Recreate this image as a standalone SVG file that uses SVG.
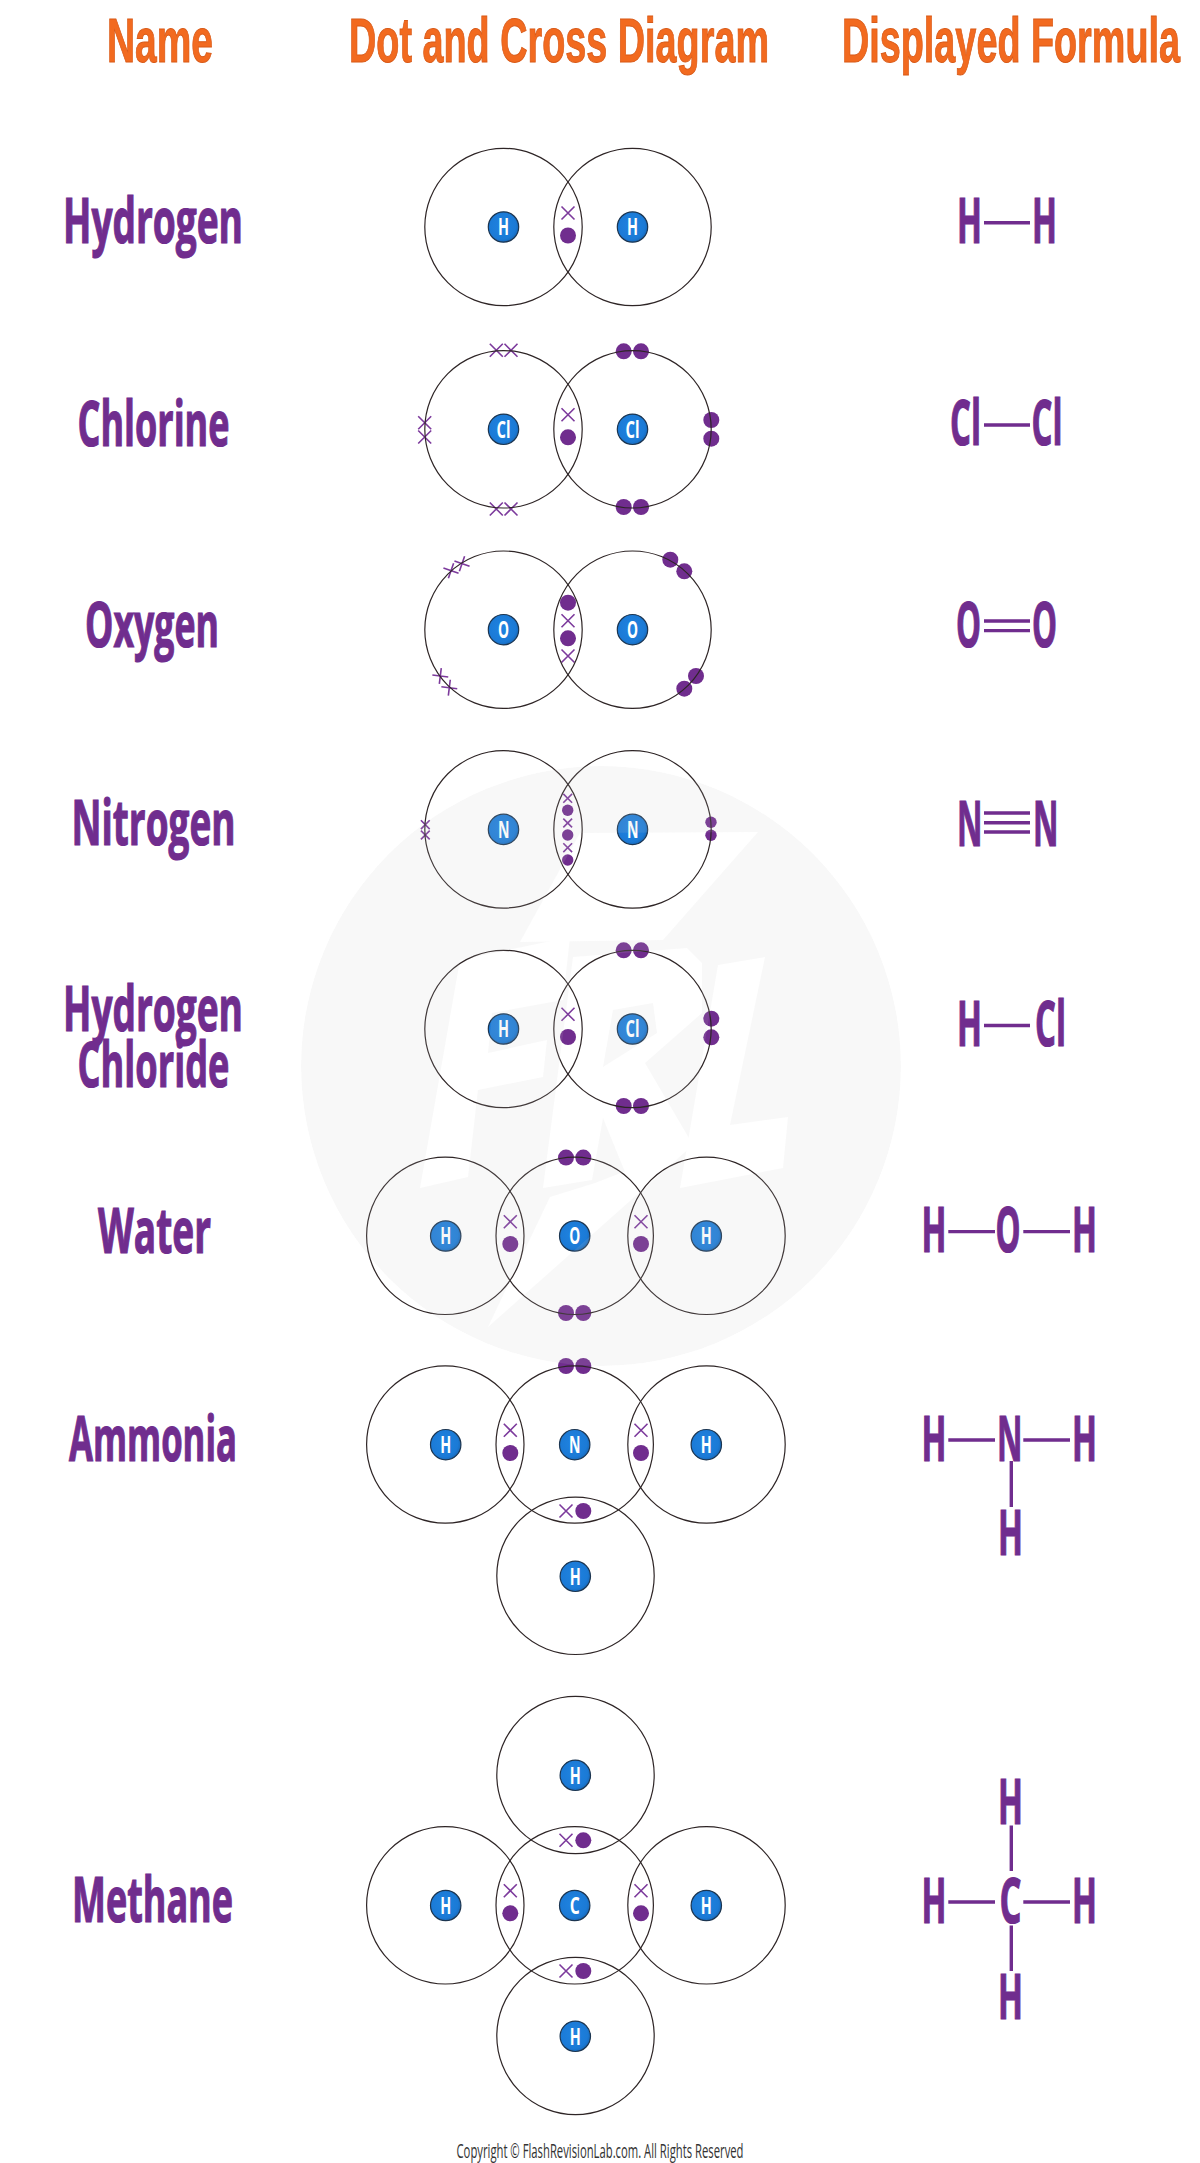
<svg xmlns="http://www.w3.org/2000/svg" xmlns:xlink="http://www.w3.org/1999/xlink" width="1200" height="2163" viewBox="0 0 1200 2163">
<style>
text{font-family:"Open Sans","Liberation Sans",sans-serif;text-anchor:start}
.hd{font-family:"Liberation Sans","Open Sans",sans-serif;font-size:63px;font-weight:700;fill:#f26a1f;stroke:#d85a18;stroke-width:1}
.nm{font-size:62px;font-weight:700;fill:#702d8e;stroke:#702d8e;stroke-width:1.2}
.fm{font-size:62px;font-weight:700;fill:#702d8e;stroke:#702d8e;stroke-width:1.2}
.nu{font-size:23px;font-weight:700;fill:#fff}
.cr{font-size:20px;fill:#333}
.sh{fill:none;stroke:#2e2526;stroke-width:1.2}
.e{fill:#702d8e}
.x{fill:none;stroke:#7c3a9c;stroke-width:1.6}
.n{fill:url(#blue);stroke:#1c3550;stroke-width:1.2}
.b{stroke:#702d8e;stroke-width:3.4;fill:none}
</style>
<defs>
<radialGradient id="blue" cx=".45" cy=".45" r=".6"><stop offset="0" stop-color="#1f83e0"/><stop offset=".75" stop-color="#1b7ad6"/><stop offset="1" stop-color="#1864b0"/></radialGradient>
<path id="xl" class="x" d="M-6.5-6.5L6.5 6.5M6.5-6.5L-6.5 6.5"/>
<path id="xs" class="x" d="M-4.4-4.4L4.4 4.4M4.4-4.4L-4.4 4.4"/>
<path id="xp" class="x" d="M-8 0L8 0M0-8L0 8"/>
<mask id="wm" maskUnits="userSpaceOnUse" x="290" y="750" width="620" height="630">
<circle cx="601" cy="1066" r="300" fill="#fff"/>
<g fill="#000">
<polygon points="580,833 758,832 663,940 520,942"/>
<polygon points="460,960 570,937 563,1000 492,1013 488,1053 547,1040 543,1077 478,1090 468,1177 420,1188"/>
<polygon points="573,957 687,948 702,963 702,1013 645,1063 693,1145 627,1177 603,1118 592,1180 543,1188"/>
<polygon points="718,965 765,957 730,1125 788,1117 783,1168 680,1188"/>
<polygon points="550,1197 595,1183 693,1145 488,1327"/>
</g>
<polygon points="613,1010 653,1003 657,1033 603,1067" fill="#fff"/>
</mask>
</defs>
<rect width="1200" height="2163" fill="#fff"/>

<g id="headers">
<text class="hd" x="107" y="62" textLength="106" lengthAdjust="spacingAndGlyphs">Name</text>
<text class="hd" x="349" y="62" textLength="420" lengthAdjust="spacingAndGlyphs">Dot and Cross Diagram</text>
<text class="hd" x="842" y="62" textLength="338" lengthAdjust="spacingAndGlyphs">Displayed Formula</text>
</g>

<g id="names">
<text class="nm" x="63" y="243" textLength="180" lengthAdjust="spacingAndGlyphs">Hydrogen</text>
<text class="nm" x="77.5" y="446" textLength="152" lengthAdjust="spacingAndGlyphs">Chlorine</text>
<text class="nm" x="85" y="647" textLength="134" lengthAdjust="spacingAndGlyphs">Oxygen</text>
<text class="nm" x="71.5" y="845" textLength="164" lengthAdjust="spacingAndGlyphs">Nitrogen</text>
<text class="nm" x="63" y="1031" textLength="180" lengthAdjust="spacingAndGlyphs">Hydrogen</text>
<text class="nm" x="77.5" y="1087" textLength="152" lengthAdjust="spacingAndGlyphs">Chloride</text>
<text class="nm" x="98" y="1253" textLength="113" lengthAdjust="spacingAndGlyphs">Water</text>
<text class="nm" x="69" y="1461" textLength="168" lengthAdjust="spacingAndGlyphs">Ammonia</text>
<text class="nm" x="72" y="1922" textLength="161" lengthAdjust="spacingAndGlyphs">Methane</text>
</g>

<g id="hydrogen">
<use href="#xl" x="568" y="213"/><circle class="e" cx="568" cy="235.5" r="8"/>
<circle class="sh" cx="503.5" cy="227" r="78.7"/><circle class="sh" cx="632.5" cy="227" r="78.7"/>
<circle class="n" cx="503.5" cy="227" r="15.2"/><circle class="n" cx="632.5" cy="227" r="15.2"/>
<text class="nu" x="498" y="235.3" textLength="11" lengthAdjust="spacingAndGlyphs">H</text><text class="nu" x="627" y="235.3" textLength="11" lengthAdjust="spacingAndGlyphs">H</text>
</g>

<g id="chlorine">
<use href="#xl" x="496.3" y="350.3"/><use href="#xl" x="511" y="350.3"/><use href="#xl" x="496.3" y="509"/><use href="#xl" x="511" y="509"/><use href="#xl" x="424.7" y="422.7"/><use href="#xl" x="424.7" y="437"/>
<use href="#xl" x="568" y="414.7"/><circle class="e" cx="568" cy="437.3" r="8"/>
<circle class="e" cx="623.7" cy="351.3" r="8"/><circle class="e" cx="641" cy="351.3" r="8"/><circle class="e" cx="623.7" cy="507" r="8"/><circle class="e" cx="641" cy="507" r="8"/><circle class="e" cx="711.3" cy="420" r="8"/><circle class="e" cx="711.3" cy="438.7" r="8"/>
<circle class="sh" cx="503.5" cy="429.3" r="78.7"/><circle class="sh" cx="632.5" cy="429.3" r="78.7"/>
<circle class="n" cx="503.5" cy="429.3" r="15.2"/><circle class="n" cx="632.5" cy="429.3" r="15.2"/>
<text class="nu" x="496.5" y="437.6" textLength="14" lengthAdjust="spacingAndGlyphs">Cl</text><text class="nu" x="625.5" y="437.6" textLength="14" lengthAdjust="spacingAndGlyphs">Cl</text>
</g>

<g id="oxygen">
<use href="#xp" transform="translate(451 570.7) rotate(19)"/><use href="#xp" transform="translate(462 563.7) rotate(19)"/><use href="#xp" transform="translate(440.3 676) rotate(7)"/><use href="#xp" transform="translate(449.3 687.7) rotate(7)"/>
<circle class="e" cx="568" cy="602.7" r="8"/><use href="#xl" x="568" y="620.7"/><circle class="e" cx="568" cy="638.3" r="8"/><use href="#xl" x="568" y="656"/>
<circle class="e" cx="670.3" cy="559.7" r="8"/><circle class="e" cx="684.3" cy="571.3" r="8"/><circle class="e" cx="696" cy="676" r="8"/><circle class="e" cx="684.3" cy="688.7" r="8"/>
<circle class="sh" cx="503.5" cy="629.7" r="78.7"/><circle class="sh" cx="632.5" cy="629.7" r="78.7"/>
<circle class="n" cx="503.5" cy="629.7" r="15.2"/><circle class="n" cx="632.5" cy="629.7" r="15.2"/>
<text class="nu" x="498" y="638" textLength="11" lengthAdjust="spacingAndGlyphs">O</text><text class="nu" x="627" y="638" textLength="11" lengthAdjust="spacingAndGlyphs">O</text>
</g>

<g id="nitrogen">
<use href="#xs" x="425.3" y="824.7"/><use href="#xs" x="425.3" y="835"/>
<use href="#xs" x="567.7" y="798.3"/><use href="#xs" x="567.7" y="823"/><use href="#xs" x="567.7" y="847.7"/>
<circle class="e" cx="567.7" cy="810.3" r="5.7"/><circle class="e" cx="567.7" cy="835" r="5.7"/><circle class="e" cx="567.7" cy="860" r="5.7"/>
<circle class="e" cx="711" cy="822.3" r="5.7"/><circle class="e" cx="711" cy="835.3" r="5.7"/>
<circle class="sh" cx="503.5" cy="829.4" r="78.7"/><circle class="sh" cx="632.5" cy="829.4" r="78.7"/>
<circle class="n" cx="503.5" cy="829.4" r="15.2"/><circle class="n" cx="632.5" cy="829.4" r="15.2"/>
<text class="nu" x="498" y="837.7" textLength="11.5" lengthAdjust="spacingAndGlyphs">N</text><text class="nu" x="627" y="837.7" textLength="11.5" lengthAdjust="spacingAndGlyphs">N</text>
</g>

<g id="hydrogen-chloride">
<use href="#xl" x="568" y="1014.3"/><circle class="e" cx="568" cy="1037" r="8"/>
<circle class="e" cx="623.7" cy="950.3" r="8"/><circle class="e" cx="641" cy="950.3" r="8"/><circle class="e" cx="623.7" cy="1106" r="8"/><circle class="e" cx="641" cy="1106" r="8"/><circle class="e" cx="711.3" cy="1018.7" r="8"/><circle class="e" cx="711.3" cy="1037.3" r="8"/>
<circle class="sh" cx="503.5" cy="1029" r="78.7"/><circle class="sh" cx="632.5" cy="1029" r="78.7"/>
<circle class="n" cx="503.5" cy="1029" r="15.2"/><circle class="n" cx="632.5" cy="1029" r="15.2"/>
<text class="nu" x="498" y="1037.3" textLength="11" lengthAdjust="spacingAndGlyphs">H</text><text class="nu" x="625.5" y="1037.3" textLength="14" lengthAdjust="spacingAndGlyphs">Cl</text>
</g>

<g id="water">
<use href="#xl" x="510.3" y="1221.7"/><circle class="e" cx="510.3" cy="1244" r="8"/><use href="#xl" x="641" y="1221.7"/><circle class="e" cx="641" cy="1244" r="8"/>
<circle class="e" cx="566" cy="1157.6" r="8"/><circle class="e" cx="583.3" cy="1157.6" r="8"/><circle class="e" cx="566" cy="1313" r="8"/><circle class="e" cx="583.3" cy="1313" r="8"/>
<circle class="sh" cx="445.3" cy="1235.8" r="78.7"/><circle class="sh" cx="574.7" cy="1235.8" r="78.7"/><circle class="sh" cx="706.5" cy="1235.8" r="78.7"/>
<circle class="n" cx="445.7" cy="1236" r="15.2"/><circle class="n" cx="574.7" cy="1236" r="15.2"/><circle class="n" cx="706.3" cy="1236" r="15.2"/>
<text class="nu" x="440.2" y="1244.3" textLength="11" lengthAdjust="spacingAndGlyphs">H</text><text class="nu" x="569.2" y="1244.3" textLength="11" lengthAdjust="spacingAndGlyphs">O</text><text class="nu" x="700.8" y="1244.3" textLength="11" lengthAdjust="spacingAndGlyphs">H</text>
</g>

<g id="ammonia">
<use href="#xl" x="510.3" y="1430.3"/><circle class="e" cx="510.3" cy="1453" r="8"/><use href="#xl" x="641" y="1430.3"/><circle class="e" cx="641" cy="1453" r="8"/>
<circle class="e" cx="566" cy="1366" r="8"/><circle class="e" cx="583.3" cy="1366" r="8"/>
<use href="#xl" x="566" y="1511"/><circle class="e" cx="583.3" cy="1511" r="8"/>
<circle class="sh" cx="445.3" cy="1444.5" r="78.7"/><circle class="sh" cx="574.7" cy="1444.5" r="78.7"/><circle class="sh" cx="706.5" cy="1444.5" r="78.7"/><circle class="sh" cx="575.5" cy="1575.8" r="78.7"/>
<circle class="n" cx="445.7" cy="1444.7" r="15.2"/><circle class="n" cx="574.7" cy="1444.7" r="15.2"/><circle class="n" cx="706.3" cy="1444.7" r="15.2"/><circle class="n" cx="575.3" cy="1576.3" r="15.2"/>
<text class="nu" x="440.2" y="1453" textLength="11" lengthAdjust="spacingAndGlyphs">H</text><text class="nu" x="569" y="1453" textLength="11.5" lengthAdjust="spacingAndGlyphs">N</text><text class="nu" x="700.8" y="1453" textLength="11" lengthAdjust="spacingAndGlyphs">H</text><text class="nu" x="569.8" y="1584.6" textLength="11" lengthAdjust="spacingAndGlyphs">H</text>
</g>

<g id="methane">
<use href="#xl" x="566" y="1840.3"/><circle class="e" cx="583.3" cy="1840.3" r="8"/>
<use href="#xl" x="510.3" y="1890.7"/><circle class="e" cx="510.3" cy="1913.3" r="8"/><use href="#xl" x="641" y="1890.7"/><circle class="e" cx="641" cy="1913.3" r="8"/>
<use href="#xl" x="566" y="1971"/><circle class="e" cx="583.3" cy="1971" r="8"/>
<circle class="sh" cx="575.5" cy="1775" r="78.7"/><circle class="sh" cx="445.3" cy="1905.3" r="78.7"/><circle class="sh" cx="574.7" cy="1905.3" r="78.7"/><circle class="sh" cx="706.5" cy="1905.3" r="78.7"/><circle class="sh" cx="575.5" cy="2036" r="78.7"/>
<circle class="n" cx="575.3" cy="1775.3" r="15.2"/><circle class="n" cx="445.7" cy="1905.5" r="15.2"/><circle class="n" cx="574.7" cy="1905.5" r="15.2"/><circle class="n" cx="706.3" cy="1905.5" r="15.2"/><circle class="n" cx="575.3" cy="2036.3" r="15.2"/>
<text class="nu" x="569.8" y="1783.6" textLength="11" lengthAdjust="spacingAndGlyphs">H</text><text class="nu" x="440.2" y="1913.8" textLength="11" lengthAdjust="spacingAndGlyphs">H</text><text class="nu" x="569.7" y="1913.8" textLength="10" lengthAdjust="spacingAndGlyphs">C</text><text class="nu" x="700.8" y="1913.8" textLength="11" lengthAdjust="spacingAndGlyphs">H</text><text class="nu" x="569.8" y="2044.6" textLength="11" lengthAdjust="spacingAndGlyphs">H</text>
</g>

<g id="formula-text">
<text class="fm" x="957" y="243" textLength="25" lengthAdjust="spacingAndGlyphs">H</text><text class="fm" x="1032" y="243" textLength="25" lengthAdjust="spacingAndGlyphs">H</text>
<text class="fm" x="950" y="445" textLength="31" lengthAdjust="spacingAndGlyphs">Cl</text><text class="fm" x="1031.5" y="445" textLength="31" lengthAdjust="spacingAndGlyphs">Cl</text>
<text class="fm" x="956" y="647" textLength="25" lengthAdjust="spacingAndGlyphs">O</text><text class="fm" x="1032" y="647" textLength="25" lengthAdjust="spacingAndGlyphs">O</text>
<text class="fm" x="957" y="845.5" textLength="25.5" lengthAdjust="spacingAndGlyphs">N</text><text class="fm" x="1033" y="845.5" textLength="25.5" lengthAdjust="spacingAndGlyphs">N</text>
<text class="fm" x="957" y="1045.5" textLength="25" lengthAdjust="spacingAndGlyphs">H</text><text class="fm" x="1035" y="1045.5" textLength="31" lengthAdjust="spacingAndGlyphs">Cl</text>
<text class="fm" x="921.5" y="1252" textLength="25" lengthAdjust="spacingAndGlyphs">H</text><text class="fm" x="995.5" y="1252" textLength="25" lengthAdjust="spacingAndGlyphs">O</text><text class="fm" x="1072" y="1252" textLength="25" lengthAdjust="spacingAndGlyphs">H</text>
<text class="fm" x="921.5" y="1461" textLength="25" lengthAdjust="spacingAndGlyphs">H</text><text class="fm" x="997" y="1461" textLength="25.5" lengthAdjust="spacingAndGlyphs">N</text><text class="fm" x="1072" y="1461" textLength="25" lengthAdjust="spacingAndGlyphs">H</text><text class="fm" x="998" y="1554.7" textLength="25" lengthAdjust="spacingAndGlyphs">H</text>
<text class="fm" x="998" y="1824" textLength="25" lengthAdjust="spacingAndGlyphs">H</text><text class="fm" x="921.5" y="1923" textLength="25" lengthAdjust="spacingAndGlyphs">H</text><text class="fm" x="999.5" y="1923" textLength="22" lengthAdjust="spacingAndGlyphs">C</text><text class="fm" x="1072" y="1923" textLength="25" lengthAdjust="spacingAndGlyphs">H</text><text class="fm" x="998" y="2019" textLength="25" lengthAdjust="spacingAndGlyphs">H</text>
</g>

<g id="connectors">
<path class="b" d="M984 222.7H1030M984 425H1030M984 621H1030M984 630.6H1030M984 813H1030M984 822.7H1030M984 832H1030M984 1025.5H1030"/>
<path class="b" d="M948.3 1231.6H995M1023.3 1231.6H1070M948.3 1440H995M1023.3 1440H1070M1011.3 1461V1507M948.3 1902H995M1023.3 1902H1070M1011.3 1825.6V1871M1011.3 1925.6V1971"/>
</g>

<text id="copyright" class="cr" x="456.5" y="2158" textLength="287" lengthAdjust="spacingAndGlyphs">Copyright © FlashRevisionLab.com. All Rights Reserved</text>

<circle id="watermark" cx="601" cy="1066" r="300" fill="#c8c8c8" fill-opacity=".13" mask="url(#wm)"/>
</svg>
